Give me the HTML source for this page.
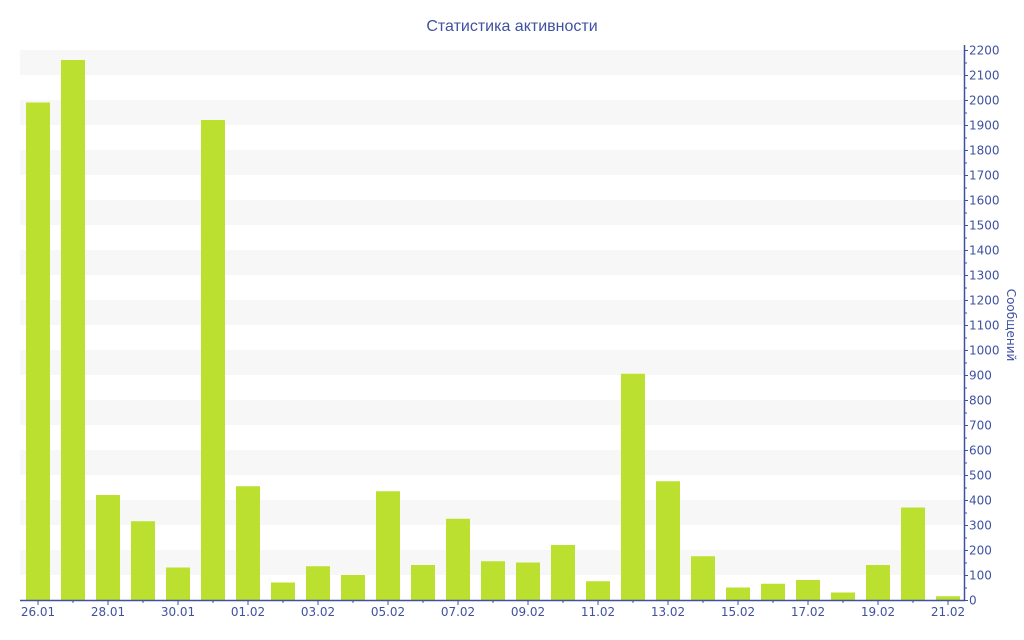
<!DOCTYPE html>
<html><head><meta charset="utf-8"><style>body{margin:0;background:#fff}svg{display:block;font-family:"DejaVu Sans","Liberation Sans",sans-serif}</style></head><body>
<svg id="c" width="1024" height="640" xmlns="http://www.w3.org/2000/svg">
<text x="512" y="31" text-anchor="middle" font-size="16" fill="#3f51a0" font-family="Liberation Sans, sans-serif">Статистика активности</text>
<g id="bands"></g><g id="bars"></g><g id="axis"></g>
<text transform="translate(1007,325) rotate(90)" text-anchor="middle" font-size="12" fill="#3f51a0">Сообщений</text>
</svg>
<script>
const ns="http://www.w3.org/2000/svg";
function el(p,t,a,txt){const e=document.createElementNS(ns,t);for(const k in a)e.setAttribute(k,a[k]);if(txt!=null)e.textContent=txt;document.getElementById(p).appendChild(e);}
const y=v=>600-v*0.25;
for(let v=100;v<2200;v+=200)el("bands","rect",{x:20,y:y(v+100),width:944,height:25,fill:"#f7f7f7"});
const vals=[1990,2160,420,315,130,1920,455,70,135,100,435,140,325,155,150,220,75,905,475,175,50,65,80,30,140,370,15];
const labels=["26.01","28.01","30.01","01.02","03.02","05.02","07.02","09.02","11.02","13.02","15.02","17.02","19.02","21.02"];
vals.forEach((v,i)=>el("bars","rect",{x:26+i*35,y:y(v),width:24,height:v*0.25,fill:"#bce02f"}));
el("axis","line",{x1:20,y1:600.5,x2:965,y2:600.5,stroke:"#3f51a0","stroke-width":1.5});
el("axis","line",{x1:964.5,y1:45,x2:964.5,y2:601,stroke:"#3f51a0","stroke-width":1.5});
for(let v=0;v<=2200;v+=50){const maj=v%100==0;el("axis","line",{x1:964,y1:y(v)+.5,x2:maj?968:967,y2:y(v)+.5,stroke:"#3f51a0"});if(maj)el("axis","text",{x:969,y:y(v)+4.5,"font-size":12,fill:"#3f51a0"},v);}
labels.forEach((l,i)=>{const x=38+i*70;el("axis","line",{x1:x,y1:600,x2:x,y2:605,stroke:"#3f51a0"});el("axis","text",{x:x,y:616,"font-size":12,fill:"#3f51a0","text-anchor":"middle"},l);});
for(let i=1;i<27;i+=2){const x=38+i*35;el("axis","line",{x1:x,y1:600,x2:x,y2:603,stroke:"#3f51a0"});}
</script>
</body></html>
